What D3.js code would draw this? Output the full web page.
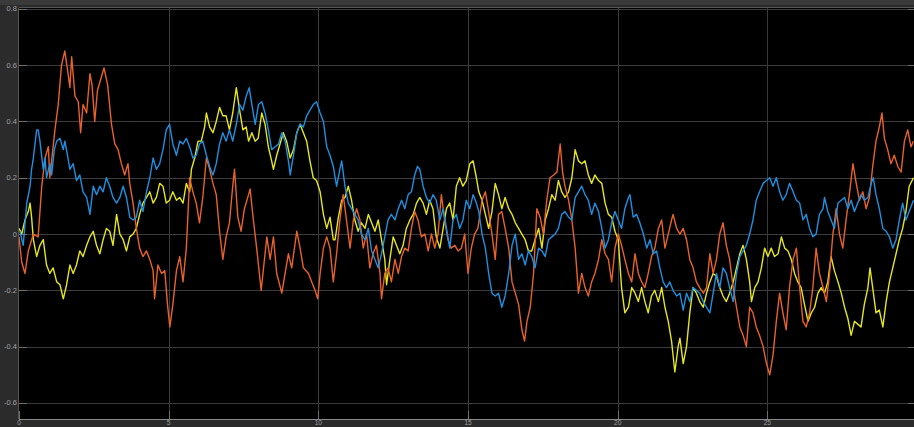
<!DOCTYPE html>
<html>
<head>
<meta charset="utf-8">
<script src="https://cdn.jsdelivr.net/npm/d3@7"></script>
<style>
  html, body { margin: 0; padding: 0; background: #2b2b2b; }
  svg { display: block; }
  text { font-family: "Liberation Sans", Arial, sans-serif; }
</style>
</head>
<body>
<svg id="chart" width="914" height="427"></svg>
<script>
// Scope trace: three signals sampled over 0–30 s.
const xTicks = [0, 5, 10, 15, 20, 25];
const yTicks = [0.8, 0.6, 0.4, 0.2, 0, -0.2, -0.4, -0.6];
const xTickLabels = ["0", "5", "10", "15", "20", "25"];
const yTickLabels = ["0.8", "0.6", "0.4", "0.2", "0", "-0.2", "-0.4", "-0.6"];

// [time s, value]
const signalYellow = [
  [0.00,0.02],[0.09,0.00],[0.20,0.05],[0.31,0.08],[0.37,0.11],[0.42,0.06],[0.48,-0.02],[0.59,-0.08],
  [0.70,-0.04],[0.81,-0.02],[0.92,-0.11],[1.03,-0.14],[1.14,-0.12],[1.26,-0.17],[1.37,-0.18],[1.48,-0.23],
  [1.59,-0.18],[1.70,-0.11],[1.81,-0.14],[1.92,-0.11],[2.03,-0.06],[2.14,-0.08],[2.26,-0.04],[2.37,-0.01],
  [2.48,0.01],[2.59,-0.04],[2.70,-0.07],[2.81,-0.02],[2.92,0.02],[3.03,0.01],[3.14,-0.04],[3.26,0.07],
  [3.37,0.00],[3.48,-0.02],[3.59,-0.06],[3.70,-0.01],[3.81,0.00],[3.92,0.02],[4.03,0.07],[4.14,0.11],
  [4.26,0.13],[4.37,0.15],[4.48,0.11],[4.59,0.13],[4.70,0.18],[4.81,0.17],[4.92,0.11],[5.03,0.12],
  [5.14,0.15],[5.26,0.12],[5.37,0.13],[5.48,0.11],[5.59,0.18],[5.70,0.15],[5.76,0.23],[5.87,0.27],
  [5.98,0.33],[6.09,0.33],[6.20,0.38],[6.26,0.43],[6.37,0.38],[6.48,0.36],[6.59,0.40],[6.70,0.45],
  [6.81,0.42],[6.92,0.42],[7.03,0.37],[7.14,0.43],[7.26,0.52],[7.37,0.44],[7.48,0.37],[7.59,0.38],
  [7.67,0.33],[7.78,0.36],[7.89,0.33],[7.99,0.34],[8.11,0.43],[8.22,0.39],[8.33,0.31],[8.44,0.26],
  [8.50,0.23],[8.61,0.28],[8.72,0.32],[8.83,0.36],[8.94,0.33],[9.06,0.27],[9.17,0.30],[9.28,0.36],
  [9.39,0.39],[9.50,0.36],[9.61,0.33],[9.72,0.26],[9.83,0.20],[9.94,0.19],[10.06,0.15],[10.17,0.07],
  [10.28,0.02],[10.39,0.06],[10.50,-0.02],[10.56,-0.02],[10.67,0.06],[10.78,0.12],[10.89,0.13],[11.00,0.17],
  [11.11,0.12],[11.22,0.05],[11.33,0.01],[11.44,0.04],[11.56,0.02],[11.67,0.07],[11.78,0.04],[11.89,0.01],
  [12.00,0.05],[12.11,-0.02],[12.22,-0.09],[12.28,-0.18],[12.39,-0.09],[12.50,-0.01],[12.61,-0.04],[12.72,-0.07],
  [12.83,-0.04],[12.94,0.02],[13.06,0.05],[13.17,0.07],[13.28,0.11],[13.39,0.13],[13.50,0.11],[13.61,0.07],
  [13.72,0.12],[13.83,0.09],[13.94,-0.01],[14.06,-0.05],[14.17,0.02],[14.28,0.09],[14.39,0.11],[14.50,0.05],
  [14.61,0.17],[14.72,0.20],[14.83,0.17],[14.94,0.19],[15.06,0.25],[15.17,0.26],[15.28,0.20],[15.36,0.15],
  [15.47,0.12],[15.58,0.07],[15.69,0.02],[15.80,0.08],[15.91,0.18],[16.02,0.14],[16.13,0.09],[16.24,0.13],
  [16.36,0.09],[16.47,0.07],[16.58,0.04],[16.69,0.02],[16.80,0.00],[16.91,-0.02],[17.02,-0.06],[17.13,-0.06],
  [17.24,-0.02],[17.36,0.02],[17.47,-0.05],[17.58,0.05],[17.69,0.09],[17.80,0.14],[17.91,0.12],[18.02,0.19],
  [18.13,0.15],[18.24,0.13],[18.36,0.15],[18.47,0.20],[18.58,0.30],[18.69,0.26],[18.80,0.25],[18.91,0.26],
  [19.02,0.21],[19.13,0.18],[19.24,0.21],[19.36,0.19],[19.47,0.18],[19.58,0.11],[19.69,0.07],[19.80,0.06],
  [19.91,0.01],[20.02,-0.02],[20.13,-0.19],[20.24,-0.28],[20.36,-0.26],[20.47,-0.19],[20.58,-0.21],[20.69,-0.24],
  [20.80,-0.19],[20.91,-0.24],[21.02,-0.28],[21.13,-0.22],[21.24,-0.20],[21.36,-0.24],[21.47,-0.19],[21.58,-0.26],
  [21.69,-0.31],[21.80,-0.38],[21.91,-0.49],[22.02,-0.40],[22.08,-0.37],[22.19,-0.46],[22.30,-0.40],[22.41,-0.28],
  [22.52,-0.19],[22.63,-0.21],[22.74,-0.24],[22.86,-0.26],[22.97,-0.21],[23.08,-0.17],[23.19,-0.14],[23.30,-0.15],
  [23.41,-0.19],[23.52,-0.22],[23.63,-0.24],[23.74,-0.21],[23.86,-0.17],[23.97,-0.12],[24.08,-0.07],[24.19,-0.04],
  [24.30,-0.09],[24.41,-0.17],[24.47,-0.24],[24.58,-0.19],[24.69,-0.17],[24.80,-0.12],[24.91,-0.05],[25.02,-0.08],
  [25.13,-0.05],[25.24,-0.08],[25.36,-0.07],[25.47,-0.01],[25.58,-0.05],[25.69,-0.06],[25.80,-0.09],[25.91,-0.14],
  [26.02,-0.17],[26.13,-0.19],[26.24,-0.25],[26.36,-0.31],[26.47,-0.28],[26.58,-0.26],[26.69,-0.21],[26.80,-0.19],
  [26.91,-0.21],[27.02,-0.17],[27.13,-0.08],[27.24,-0.13],[27.36,-0.17],[27.47,-0.21],[27.58,-0.26],[27.69,-0.30],
  [27.80,-0.36],[27.91,-0.31],[28.02,-0.32],[28.13,-0.33],[28.24,-0.25],[28.36,-0.19],[28.43,-0.12],[28.52,-0.19],
  [28.63,-0.28],[28.74,-0.27],[28.86,-0.33],[28.97,-0.24],[29.08,-0.17],[29.19,-0.12],[29.30,-0.07],[29.41,-0.02],
  [29.52,0.02],[29.63,0.08],[29.74,0.17],[29.88,0.20]
];

const signalBlue = [
  [0.03,0.01],[0.14,-0.04],[0.26,0.11],[0.37,0.17],[0.42,0.23],[0.48,0.27],[0.59,0.37],[0.64,0.37],
  [0.70,0.33],[0.81,0.23],[0.87,0.27],[0.92,0.20],[1.03,0.25],[1.09,0.21],[1.18,0.30],[1.26,0.33],
  [1.37,0.34],[1.48,0.30],[1.53,0.33],[1.62,0.28],[1.70,0.23],[1.81,0.25],[1.92,0.19],[2.03,0.21],
  [2.14,0.15],[2.26,0.13],[2.37,0.07],[2.48,0.17],[2.59,0.14],[2.70,0.17],[2.81,0.15],[2.92,0.20],
  [3.03,0.17],[3.14,0.13],[3.26,0.11],[3.37,0.13],[3.48,0.17],[3.59,0.13],[3.70,0.06],[3.81,0.05],
  [3.92,0.06],[4.03,0.12],[4.14,0.08],[4.26,0.15],[4.37,0.20],[4.48,0.27],[4.59,0.23],[4.70,0.25],
  [4.81,0.30],[4.92,0.37],[5.03,0.39],[5.14,0.32],[5.26,0.28],[5.37,0.33],[5.48,0.32],[5.59,0.34],
  [5.70,0.31],[5.81,0.27],[5.92,0.28],[6.03,0.32],[6.14,0.33],[6.26,0.28],[6.37,0.24],[6.48,0.21],
  [6.59,0.25],[6.70,0.32],[6.81,0.36],[6.92,0.33],[7.03,0.37],[7.14,0.33],[7.26,0.39],[7.37,0.46],
  [7.48,0.44],[7.59,0.49],[7.69,0.52],[7.78,0.46],[7.89,0.39],[8.00,0.46],[8.11,0.47],[8.22,0.43],
  [8.33,0.37],[8.44,0.30],[8.56,0.31],[8.67,0.32],[8.78,0.36],[8.89,0.33],[9.00,0.26],[9.06,0.21],
  [9.17,0.28],[9.28,0.36],[9.39,0.39],[9.50,0.38],[9.61,0.42],[9.72,0.44],[9.83,0.46],[9.94,0.47],
  [10.06,0.43],[10.17,0.40],[10.28,0.31],[10.39,0.28],[10.50,0.24],[10.61,0.17],[10.72,0.23],[10.78,0.26],
  [10.89,0.17],[11.00,0.11],[11.11,0.09],[11.22,0.07],[11.33,0.05],[11.44,0.00],[11.56,-0.02],[11.67,0.02],
  [11.78,-0.06],[11.89,-0.09],[12.00,-0.12],[12.11,-0.07],[12.22,-0.01],[12.33,0.05],[12.44,0.07],[12.56,0.05],
  [12.67,0.09],[12.78,0.12],[12.89,0.09],[13.00,0.14],[13.11,0.15],[13.22,0.21],[13.31,0.24],[13.39,0.23],
  [13.50,0.17],[13.61,0.13],[13.72,0.11],[13.83,0.14],[13.94,0.12],[14.06,0.05],[14.17,0.09],[14.28,0.02],
  [14.39,-0.05],[14.50,0.05],[14.61,0.07],[14.72,0.02],[14.83,0.05],[14.94,0.12],[15.06,0.09],[15.17,0.14],
  [15.28,0.11],[15.36,0.08],[15.47,0.00],[15.58,-0.05],[15.69,-0.14],[15.80,-0.21],[15.91,-0.22],[16.02,-0.21],
  [16.13,-0.26],[16.24,-0.22],[16.36,-0.14],[16.47,-0.04],[16.58,0.00],[16.69,-0.09],[16.80,-0.07],[16.91,-0.11],
  [17.02,-0.06],[17.13,-0.08],[17.24,-0.12],[17.36,-0.05],[17.47,-0.06],[17.58,-0.08],[17.69,-0.02],[17.80,-0.01],
  [17.91,0.00],[18.02,0.02],[18.13,0.07],[18.24,0.08],[18.36,0.06],[18.47,0.05],[18.58,0.13],[18.69,0.15],
  [18.80,0.17],[18.91,0.14],[19.02,0.12],[19.13,0.07],[19.24,0.11],[19.36,0.08],[19.47,0.02],[19.58,-0.05],
  [19.69,-0.02],[19.80,0.04],[19.91,0.08],[20.02,0.05],[20.13,0.02],[20.24,0.09],[20.36,0.13],[20.41,0.14],
  [20.52,0.06],[20.63,0.07],[20.74,0.04],[20.86,0.00],[20.97,-0.05],[21.08,-0.02],[21.19,-0.07],[21.30,-0.06],
  [21.41,-0.12],[21.52,-0.17],[21.63,-0.19],[21.74,-0.17],[21.85,-0.20],[21.97,-0.22],[22.08,-0.21],[22.19,-0.27],
  [22.30,-0.21],[22.41,-0.24],[22.52,-0.19],[22.63,-0.20],[22.74,-0.21],[22.86,-0.24],[22.97,-0.26],[23.08,-0.28],
  [23.19,-0.21],[23.30,-0.14],[23.41,-0.19],[23.52,-0.12],[23.63,-0.14],[23.74,-0.19],[23.86,-0.24],[23.97,-0.14],
  [24.08,-0.08],[24.19,-0.06],[24.30,-0.04],[24.41,0.00],[24.52,0.05],[24.63,0.12],[24.74,0.15],[24.86,0.18],
  [24.97,0.19],[25.08,0.20],[25.19,0.17],[25.30,0.20],[25.41,0.15],[25.52,0.12],[25.63,0.14],[25.74,0.18],
  [25.86,0.15],[25.97,0.12],[26.08,0.11],[26.19,0.05],[26.30,0.07],[26.41,0.02],[26.52,-0.01],[26.63,0.00],
  [26.74,0.07],[26.86,0.09],[26.91,0.13],[27.02,0.08],[27.13,0.05],[27.24,0.02],[27.36,0.11],[27.47,0.12],
  [27.58,0.13],[27.69,0.09],[27.80,0.12],[27.91,0.08],[28.02,0.11],[28.13,0.14],[28.24,0.12],[28.36,0.13],
  [28.47,0.18],[28.54,0.20],[28.63,0.14],[28.74,0.09],[28.86,0.02],[28.97,0.01],[29.08,-0.01],[29.19,-0.05],
  [29.30,-0.02],[29.41,0.05],[29.52,0.11],[29.63,0.05],[29.74,0.08],[29.88,0.12]
];

const signalOrange = [
  [0.00,-0.01],[0.09,-0.10],[0.20,-0.14],[0.31,-0.06],[0.48,0.00],[0.64,-0.01],[0.76,0.17],[0.87,0.27],
  [0.98,0.31],[1.03,0.20],[1.20,0.37],[1.31,0.46],[1.42,0.60],[1.53,0.65],[1.64,0.57],[1.70,0.52],
  [1.76,0.63],[1.87,0.49],[1.98,0.47],[2.06,0.36],[2.14,0.46],[2.26,0.43],[2.37,0.57],[2.44,0.53],
  [2.53,0.40],[2.62,0.51],[2.73,0.55],[2.84,0.59],[2.96,0.53],[3.09,0.39],[3.20,0.32],[3.31,0.30],
  [3.42,0.25],[3.53,0.21],[3.64,0.25],[3.70,0.18],[3.81,0.11],[3.92,0.02],[4.03,-0.05],[4.14,-0.08],
  [4.26,-0.06],[4.37,-0.09],[4.48,-0.13],[4.53,-0.23],[4.64,-0.11],[4.76,-0.14],[4.87,-0.13],[4.96,-0.25],
  [5.04,-0.33],[5.14,-0.25],[5.26,-0.13],[5.37,-0.08],[5.48,-0.17],[5.59,-0.05],[5.64,0.06],[5.70,0.20],
  [5.81,0.15],[5.92,0.11],[6.03,0.04],[6.14,0.13],[6.26,0.27],[6.37,0.23],[6.48,0.18],[6.59,0.14],
  [6.70,0.01],[6.81,-0.09],[6.92,-0.01],[7.03,0.04],[7.14,0.17],[7.20,0.23],[7.31,0.06],[7.42,0.01],
  [7.53,0.09],[7.67,0.14],[7.72,0.16],[7.83,0.05],[7.94,-0.05],[8.09,-0.20],[8.17,-0.12],[8.28,-0.01],
  [8.39,-0.09],[8.50,-0.01],[8.61,-0.14],[8.78,-0.21],[8.89,-0.14],[9.00,-0.07],[9.11,-0.12],[9.28,0.01],
  [9.39,-0.05],[9.50,-0.12],[9.67,-0.14],[9.78,-0.17],[9.89,-0.20],[9.98,-0.23],[10.06,-0.14],[10.17,-0.05],
  [10.28,-0.01],[10.39,-0.05],[10.50,-0.17],[10.61,-0.07],[10.72,0.05],[10.83,0.14],[10.94,0.05],[11.06,-0.05],
  [11.17,0.05],[11.28,0.09],[11.39,0.05],[11.50,-0.05],[11.61,0.00],[11.72,-0.12],[11.83,-0.07],[11.94,-0.04],
  [12.06,-0.14],[12.11,-0.23],[12.22,-0.14],[12.33,-0.12],[12.44,-0.17],[12.56,-0.09],[12.67,-0.14],[12.78,-0.08],
  [12.89,-0.05],[13.00,-0.06],[13.11,0.02],[13.22,0.08],[13.33,0.05],[13.44,-0.01],[13.56,0.00],[13.67,-0.06],
  [13.78,0.00],[13.89,-0.05],[14.00,0.00],[14.11,0.14],[14.22,0.05],[14.33,-0.02],[14.44,-0.05],[14.56,-0.04],
  [14.67,-0.06],[14.78,-0.05],[14.89,0.00],[15.00,-0.14],[15.11,-0.05],[15.22,0.00],[15.33,0.02],[15.47,0.12],
  [15.58,0.15],[15.69,0.08],[15.80,0.00],[15.91,-0.09],[16.02,0.07],[16.13,0.08],[16.24,0.02],[16.36,-0.05],
  [16.47,-0.17],[16.58,-0.21],[16.69,-0.25],[16.80,-0.34],[16.89,-0.38],[16.97,-0.31],[17.08,-0.26],[17.19,-0.14],
  [17.30,0.09],[17.41,0.06],[17.52,0.00],[17.63,0.12],[17.74,0.20],[17.86,0.21],[17.97,0.22],[18.08,0.32],
  [18.16,0.22],[18.24,0.17],[18.36,0.12],[18.47,0.05],[18.58,-0.05],[18.69,-0.21],[18.80,-0.14],[18.91,-0.19],
  [19.02,-0.22],[19.13,-0.17],[19.24,-0.14],[19.36,-0.09],[19.47,-0.02],[19.58,-0.07],[19.69,-0.09],[19.80,-0.17],
  [19.91,-0.05],[20.02,0.00],[20.13,-0.04],[20.24,-0.09],[20.36,-0.14],[20.47,-0.17],[20.58,-0.07],[20.69,-0.14],
  [20.80,-0.17],[20.91,-0.19],[21.02,-0.14],[21.13,-0.08],[21.24,-0.05],[21.36,0.02],[21.47,0.05],[21.58,-0.05],
  [21.69,0.00],[21.80,0.05],[21.85,0.07],[21.97,0.02],[22.08,0.00],[22.19,0.02],[22.30,-0.02],[22.41,-0.09],
  [22.52,-0.12],[22.63,-0.17],[22.74,-0.19],[22.86,-0.21],[22.97,-0.19],[23.08,-0.07],[23.19,-0.14],[23.30,-0.09],
  [23.41,0.00],[23.52,0.04],[23.63,-0.04],[23.74,-0.09],[23.86,-0.19],[23.97,-0.26],[24.08,-0.33],[24.19,-0.36],
  [24.30,-0.40],[24.41,-0.26],[24.52,-0.28],[24.63,-0.33],[24.74,-0.36],[24.86,-0.40],[24.97,-0.46],[25.08,-0.50],
  [25.19,-0.43],[25.30,-0.31],[25.41,-0.21],[25.52,-0.28],[25.63,-0.34],[25.74,-0.19],[25.86,-0.09],[25.97,-0.05],
  [26.08,-0.19],[26.19,-0.31],[26.30,-0.33],[26.41,-0.28],[26.52,-0.19],[26.63,-0.05],[26.74,-0.14],[26.86,-0.19],
  [26.97,-0.24],[27.08,-0.14],[27.19,0.00],[27.30,0.09],[27.41,0.00],[27.52,-0.05],[27.63,0.05],[27.74,0.14],
  [27.86,0.25],[27.97,0.18],[28.08,0.12],[28.19,0.15],[28.30,0.09],[28.41,0.13],[28.52,0.24],[28.63,0.33],
  [28.74,0.38],[28.83,0.43],[28.91,0.34],[29.02,0.30],[29.13,0.25],[29.24,0.28],[29.36,0.24],[29.47,0.22],
  [29.58,0.33],[29.69,0.37],[29.80,0.31],[29.88,0.33]
];

const series = [
  { name: "Signal 1", data: signalYellow, color: "#e6e61c" },
  { name: "Signal 2", data: signalOrange, color: "#e8622a" },
  { name: "Signal 3", data: signalBlue,   color: "#1f8fe0" }
];

const W = 914, H = 427;
const plot = { left: 19, top: 8, right: 917, bottom: 419 };

const svg = d3.select("#chart");

const x = d3.scaleLinear().domain([0, 30]).range([plot.left, plot.right]);
const y = d3.scaleLinear().domain([-0.657, 0.803]).range([plot.bottom, plot.top]);

// frame / panels
svg.append("rect").attr("x", 0).attr("y", 0).attr("width", W).attr("height", H).attr("fill", "#2b2b2b");
svg.append("rect").attr("x", 0).attr("y", 0).attr("width", W).attr("height", 5).attr("fill", "#3a3a3a");
svg.append("rect")
  .attr("x", plot.left).attr("y", plot.top)
  .attr("width", plot.right - plot.left).attr("height", plot.bottom - plot.top)
  .attr("fill", "#000000");

const grid = svg.append("g");
grid.selectAll("line.h").data(yTicks).join("line")
  .attr("x1", plot.left).attr("x2", plot.right)
  .attr("y1", d => Math.round(y(d)) + 0.5).attr("y2", d => Math.round(y(d)) + 0.5)
  .attr("stroke", "#3b3b3b").attr("stroke-width", 1);
grid.selectAll("line.v").data(xTicks.slice(1)).join("line")
  .attr("y1", plot.top).attr("y2", plot.bottom)
  .attr("x1", d => Math.round(x(d)) + 0.5).attr("x2", d => Math.round(x(d)) + 0.5)
  .attr("stroke", "#3b3b3b").attr("stroke-width", 1);

// inner tick marks
const tickCol = "#6e6e6e";
grid.selectAll("line.tl").data(yTicks).join("line")
  .attr("x1", plot.left).attr("x2", plot.left + 8)
  .attr("y1", d => Math.round(y(d)) + 0.5).attr("y2", d => Math.round(y(d)) + 0.5)
  .attr("stroke", tickCol);
grid.selectAll("line.tr").data(yTicks).join("line")
  .attr("x1", W - 6).attr("x2", W)
  .attr("y1", d => Math.round(y(d)) + 0.5).attr("y2", d => Math.round(y(d)) + 0.5)
  .attr("stroke", tickCol);
grid.selectAll("line.tb").data(xTicks).join("line")
  .attr("y1", plot.bottom - 8).attr("y2", plot.bottom)
  .attr("x1", d => Math.round(x(d)) + 0.5).attr("x2", d => Math.round(x(d)) + 0.5)
  .attr("stroke", tickCol);

// plot border
svg.append("line").attr("x1", plot.left).attr("x2", W).attr("y1", plot.bottom + 0.5).attr("y2", plot.bottom + 0.5)
  .attr("stroke", "#8a8a8a");
svg.append("line").attr("x1", plot.left).attr("x2", W).attr("y1", plot.top - 0.5).attr("y2", plot.top - 0.5)
  .attr("stroke", "#555555");
svg.append("line").attr("x1", plot.left - 0.5).attr("x2", plot.left - 0.5).attr("y1", plot.top).attr("y2", plot.bottom)
  .attr("stroke", "#555555");

// signal traces
svg.append("clipPath").attr("id", "plotClip")
  .append("rect").attr("x", plot.left).attr("y", plot.top)
  .attr("width", plot.right - plot.left).attr("height", plot.bottom - plot.top);

const line = d3.line().x(d => x(d[0])).y(d => y(d[1])).curve(d3.curveLinear);
svg.append("g").attr("clip-path", "url(#plotClip)")
  .selectAll("path").data(series).join("path")
  .attr("d", d => line(d.data))
  .attr("fill", "none")
  .attr("stroke", d => d.color)
  .attr("stroke-width", 1.4)
  .attr("stroke-linejoin", "round");

// tick labels
svg.append("g").selectAll("text").data(yTicks).join("text")
  .attr("x", 17).attr("y", d => y(d))
  .attr("text-anchor", "end").attr("dominant-baseline", "central")
  .attr("font-size", 7.5).attr("fill", "#a0a0a0")
  .text((d, i) => yTickLabels[i]);
svg.append("g").selectAll("text").data(xTicks).join("text")
  .attr("x", d => x(d)).attr("y", 420.5)
  .attr("text-anchor", "middle").attr("dominant-baseline", "hanging")
  .attr("font-size", 6.5).attr("fill", "#a0a0a0")
  .text((d, i) => xTickLabels[i]);
</script>
</body>
</html>
